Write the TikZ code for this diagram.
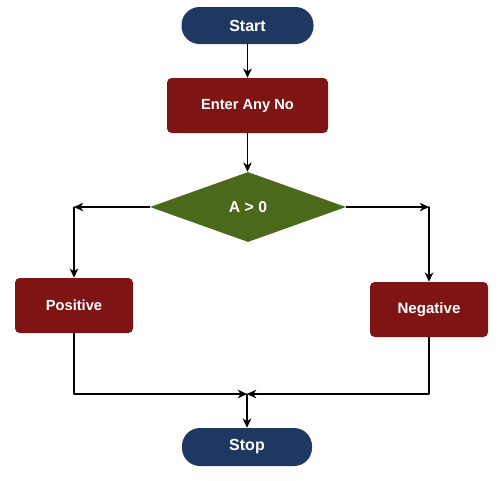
\documentclass[tikz,border=0pt]{standalone}
\usepackage{xcolor}
\usepackage{fontspec}
\usepackage{tikz}
\setmainfont{Liberation Sans}
\usetikzlibrary{calc}
\usetikzlibrary{arrows.meta}
\usetikzlibrary{shapes.geometric}
\definecolor{termblue}{rgb}{0.122,0.220,0.380}
\definecolor{boxred}{rgb}{0.498,0.078,0.082}
\definecolor{testgreen}{rgb}{0.290,0.412,0.102}
\tikzstyle{every node}=[font=\fontsize{11}{13}\selectfont\bfseries,text=white]
\tikzstyle{term}=[rectangle,rounded corners=13.5pt,fill=termblue,inner sep=0pt,font=\fontsize{12}{14}\selectfont\bfseries]
\tikzstyle{proc}=[rectangle,rounded corners=3.5pt,fill=boxred,inner sep=0pt,minimum width=88.5pt,minimum height=41.25pt]
\tikzstyle{test}=[diamond,fill=testgreen,inner sep=0pt,minimum width=147pt,minimum height=52.5pt,font=\fontsize{11.8}{14}\selectfont\bfseries]
\tikzstyle{flow}=[->,line width=0.8pt,color=black]

\begin{document}
\begin{tikzpicture}[line cap=round,line join=round,>={Stealth[length=7pt,width=6.5pt,inset=2.2pt]},x=0.75pt,y=-0.75pt]
            \useasboundingbox (0,0) rectangle (500,480);
            \node [term,minimum width=99pt,minimum height=27.75pt] (start) at (247.5,25.5) {Start};
            \node [proc,minimum width=120.75pt] (enter) at (247.5,105.5) {Enter Any No};
            \node [test] (cond) at (248,207) {A > 0};
            \node [proc] (pos) at (74,305.5) {Positive};
            \node [proc,font=\fontsize{11.3}{13}\selectfont\bfseries] (neg) at (429,309.5) {Negative};
            \node [term,minimum width=97.5pt,minimum height=28.5pt] (stop) at (247,447) {Stop};
            \coordinate (lft) at (pos.north |- cond.west);
            \coordinate (rgt) at (neg.north |- cond.east);
            \coordinate (join) at (247,394);
            \draw [flow] (start) -- (enter);
            \draw [flow] (enter.south) -- (enter.south |- cond.north);
            \draw [flow] (cond.west) -- (lft);
            \draw [flow] (lft) -- (pos.north);
            \draw [flow] (cond.east) -- (rgt);
            \draw [flow] (rgt) -- (neg.north);
            \draw [flow] (pos.south) |- (join);
            \draw [flow] (neg.south) |- (join);
            \draw [flow] (join) -- (stop.north);
            \end{tikzpicture}
\end{document}
